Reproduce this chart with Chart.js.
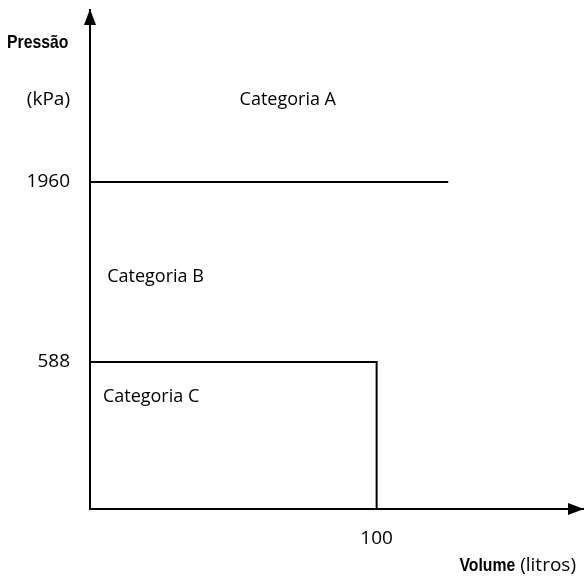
<!DOCTYPE html>
<html>
<head>
<meta charset="utf-8">
<script src="https://cdn.jsdelivr.net/npm/chart.js@4"></script>
<style>
  html, body { margin: 0; padding: 0; background: #fff; }
  #wrap { width: 585px; height: 579px; }
</style>
</head>
<body>
<div id="wrap"><canvas id="c"></canvas></div>
<script>
// values
const pressureTicks = [588, 1960];      // kPa
const volumeTicks = [100];              // litros
const limitAB = [{x: 0, y: 1960}, {x: 125, y: 1960}];
const boxC = [{x: 0, y: 588}, {x: 100, y: 588}, {x: 100, y: 0}];
const categoryNames = ['Categoria A', 'Categoria B', 'Categoria C'];
const categoryX = [69, 6, 4.5];
const categoryY = [2456, 1236, 450];
const categoryAlign = ['center', 'left', 'left'];

// the pressure axis in the drawing is schematic, not to scale
const yBreaks = [0, 588, 1960, 3000];
const yFracs = [0, 0.2946, 0.6553, 1];

class SchematicScale extends Chart.LinearScale {
    getPixelForValue(v) {
        if (v === null || v === undefined) return NaN;
        let f = 0;
        for (let i = 0; i < yBreaks.length - 1; i++) {
            if (v <= yBreaks[i + 1] || i === yBreaks.length - 2) {
                const t = (v - yBreaks[i]) / (yBreaks[i + 1] - yBreaks[i]);
                f = yFracs[i] + t * (yFracs[i + 1] - yFracs[i]);
                break;
            }
        }
        return this.getPixelForDecimal(f);
    }
}
SchematicScale.id = 'schematic';
SchematicScale.defaults = Chart.LinearScale.defaults;
Chart.register(SchematicScale);

const FONT = '"Open Sans", "Liberation Sans", sans-serif';
const BOLD = 'bold 19px "Liberation Sans", sans-serif';
const SQUEEZE = 0.83;

// condensed bold text (squeezed horizontally)
function boldText(ctx, text, x, y) {
    ctx.save();
    ctx.font = BOLD;
    ctx.translate(x, y);
    ctx.scale(SQUEEZE, 1);
    ctx.fillText(text, 0, 0);
    ctx.restore();
}

const decorations = {
    id: 'decorations',
    afterDraw(chart) {
        const ctx = chart.ctx;
        const a = chart.chartArea;
        const xs = chart.scales.x, ys = chart.scales.y;
        ctx.save();
        // arrow heads
        ctx.fillStyle = '#000';
        ctx.beginPath();
        ctx.moveTo(a.left, a.top - 1);
        ctx.lineTo(a.left - 6, a.top + 15);
        ctx.lineTo(a.left + 6, a.top + 15);
        ctx.closePath();
        ctx.fill();
        ctx.beginPath();
        ctx.moveTo(a.right + 1, a.bottom);
        ctx.lineTo(a.right - 15, a.bottom - 6);
        ctx.lineTo(a.right - 15, a.bottom + 6);
        ctx.closePath();
        ctx.fill();

        // category labels
        ctx.font = '18px ' + FONT;
        ctx.textBaseline = 'middle';
        categoryNames.forEach((n, i) => {
            ctx.textAlign = categoryAlign[i];
            ctx.fillText(n, xs.getPixelForValue(categoryX[i]), ys.getPixelForValue(categoryY[i]));
        });

        // axis titles
        ctx.textAlign = 'left';
        boldText(ctx, 'Pressão', 7, 43);
        ctx.textAlign = 'right';
        ctx.font = '19px ' + FONT;
        ctx.fillText('(kPa)', 70, 100);

        ctx.textAlign = 'left';
        ctx.font = BOLD;
        const w1 = ctx.measureText('Volume').width * SQUEEZE;
        ctx.font = '19px ' + FONT;
        const w2 = ctx.measureText(' (litros)').width;
        const x0 = 576 - w1 - w2;
        boldText(ctx, 'Volume', x0, 566);
        ctx.font = '19px ' + FONT;
        ctx.fillText(' (litros)', x0 + w1, 566);
        ctx.restore();
    }
};

new Chart(document.getElementById('c'), {
    type: 'line',
    data: {
        datasets: [
            {
                label: 'Limite A/B',
                data: limitAB,
                borderColor: '#000',
                borderWidth: 2,
                pointRadius: 0,
                fill: false
            },
            {
                label: 'Categoria C',
                data: boxC,
                borderColor: '#000',
                borderWidth: 2,
                pointRadius: 0,
                fill: false
            }
        ]
    },
    options: {
        responsive: true,
        maintainAspectRatio: false,
        animation: false,
        layout: { padding: { top: 10, right: 2, left: 0, bottom: 0 } },
        plugins: {
            legend: { display: false },
            tooltip: { enabled: false }
        },
        scales: {
            x: {
                type: 'linear',
                min: 0,
                max: 172,
                afterBuildTicks: s => { s.ticks = volumeTicks.map(v => ({value: v})); },
                afterFit: s => { s.height = 70; s.paddingLeft = 0; s.paddingRight = 0; },
                grid: { display: false, drawTicks: false },
                border: { display: true, color: '#000', width: 2 },
                ticks: { color: '#000', padding: 18, callback: v => String(v), font: { size: 19, family: FONT } }
            },
            y: {
                type: 'schematic',
                min: 0,
                max: 3000,
                afterBuildTicks: s => { s.ticks = pressureTicks.map(v => ({value: v})); },
                afterFit: s => { s.width = 90; s.paddingTop = 0; s.paddingBottom = 0; },
                grid: { display: false, drawTicks: false },
                border: { display: true, color: '#000', width: 2 },
                ticks: { color: '#000', padding: 20, callback: v => String(v), font: { size: 19, family: FONT } }
            }
        }
    },
    plugins: [decorations]
});
</script>
</body>
</html>
